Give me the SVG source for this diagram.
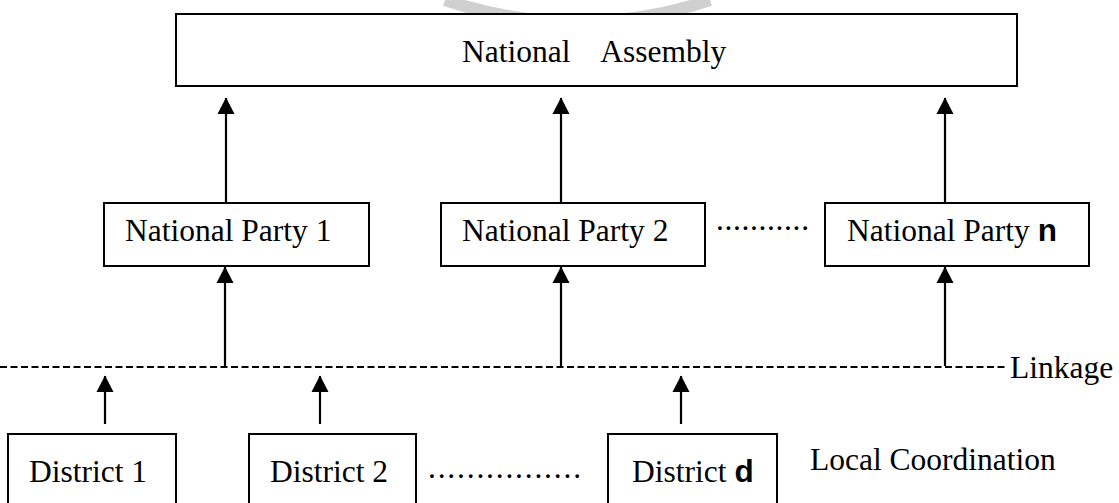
<svg xmlns="http://www.w3.org/2000/svg" width="1119" height="503" viewBox="0 0 1119 503">
<style>
.box{fill:#fff;stroke:#000;stroke-width:2}
.t{font-family:"Liberation Serif","Times New Roman",serif;font-size:31.5px;fill:#000}
.b{font-family:"Liberation Sans",Arial,sans-serif;font-weight:bold}
.c{stroke:#000;stroke-width:2.2;fill:none}
</style>
<defs>
<marker id="ah" markerWidth="18" markerHeight="18" viewBox="0 0 18 18" refX="16.5" refY="9" orient="auto" markerUnits="userSpaceOnUse">
<path d="M17 9 L0.5 0.5 L0.5 17.5 Z" fill="#000"/>
</marker>
</defs>
<rect width="1119" height="503" fill="#fff"/>
<path d="M 445 0 A 413 413 0 0 0 710 0" fill="none" stroke="#c4c4c4" stroke-width="12" opacity="0.8"/>
<g id="national-assembly">
<rect class="box" x="176" y="14" width="841" height="72"/>
<text class="t" x="462" y="62" style="white-space:pre" xml:space="preserve">National    Assembly</text>
</g>
<g id="party-1">
<rect class="box" x="104" y="203" width="265" height="63"/>
<text class="t" x="125" y="241">National Party 1</text>
</g>
<g id="party-2">
<rect class="box" x="441" y="203" width="264" height="63"/>
<text class="t" x="462" y="241">National Party 2</text>
</g>
<g id="party-n">
<rect class="box" x="825" y="203" width="264" height="63"/>
<text class="t" x="847" y="241">National Party <tspan class="b">n</tspan></text>
</g>
<g id="district-1">
<rect class="box" x="8" y="434" width="168" height="80"/>
<text class="t" x="29" y="482">District 1</text>
</g>
<g id="district-2">
<rect class="box" x="249" y="434" width="167" height="80"/>
<text class="t" x="270" y="482">District 2</text>
</g>
<g id="district-d">
<rect class="box" x="608" y="434" width="169" height="80"/>
<text class="t" x="632" y="482">District <tspan class="b">d</tspan></text>
</g>
<g id="labels">
<text class="t" x="1010" y="378">Linkage</text>
<text class="t" x="810" y="470">Local Coordination</text>
<text class="t" x="716" y="230" font-size="26" textLength="93" lengthAdjust="spacing">...........</text>
<text class="t" x="428" y="478" font-size="28" textLength="153" lengthAdjust="spacing">................</text>
</g>
<g id="connectors">
<line x1="0" y1="367" x2="1008" y2="367" stroke="#000" stroke-width="2" stroke-dasharray="7 3.5"/>
<line class="c" x1="226" y1="203" x2="226" y2="98" marker-end="url(#ah)"/>
<line class="c" x1="561" y1="203" x2="561" y2="98" marker-end="url(#ah)"/>
<line class="c" x1="945" y1="203" x2="945" y2="98" marker-end="url(#ah)"/>
<line class="c" x1="225" y1="366" x2="225" y2="267" marker-end="url(#ah)"/>
<line class="c" x1="561" y1="366" x2="561" y2="267" marker-end="url(#ah)"/>
<line class="c" x1="945" y1="366" x2="945" y2="267" marker-end="url(#ah)"/>
<line class="c" x1="105" y1="424" x2="105" y2="376" marker-end="url(#ah)"/>
<line class="c" x1="320" y1="424" x2="320" y2="376" marker-end="url(#ah)"/>
<line class="c" x1="681" y1="424" x2="681" y2="376" marker-end="url(#ah)"/>
</g>
</svg>
